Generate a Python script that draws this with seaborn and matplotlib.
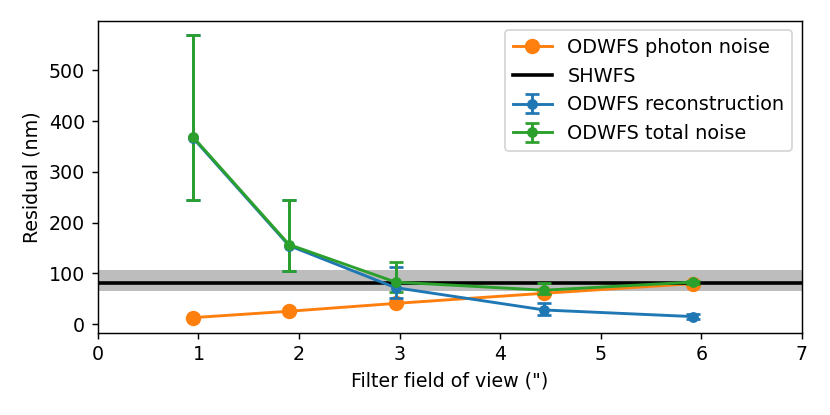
import matplotlib
matplotlib.use("Agg")
import matplotlib.pyplot as plt
import numpy as np
import pandas as pd
import seaborn as sns

# filter field of view (arcsec)
fov = [0.95, 1.9, 2.96, 4.44, 5.92]

photon_noise = [13, 25.5, 41, 61, 80]

recon = [366, 155, 72, 28, 15]
recon_lo = [245, 104, 52, 18, 10]
recon_hi = [570, 244, 113, 41, 20]

total = [368, 157, 83, 67, 83]
total_lo = [245, 105, 63, 60, 80]
total_hi = [570, 245, 122, 82, 86]

shwfs = 80.5
shwfs_lo = 65.5
shwfs_hi = 107

plt.rcParams["font.size"] = 10.5

fig, ax = plt.subplots(figsize=(830 / 130, 415 / 130), dpi=130)

df = pd.DataFrame({"fov": fov, "photon": photon_noise})
sns.lineplot(data=df, x="fov", y="photon", ax=ax, color="tab:orange", marker="o",
             markersize=8.5, markeredgewidth=0, lw=1.6, label="ODWFS photon noise")

ax.axhline(shwfs, color="black", lw=2, label="SHWFS")
ax.fill_between([0, 7], shwfs_lo, shwfs_hi, color="#bdbdbd", zorder=0.5, lw=0)

rec = np.array(recon)
ax.errorbar(fov, rec, yerr=[rec - np.array(recon_lo), np.array(recon_hi) - rec],
            fmt="o-", color="tab:blue", ms=5, lw=1.6, capsize=4, capthick=1.5,
            label="ODWFS reconstruction")
tot = np.array(total)
ax.errorbar(fov, tot, yerr=[tot - np.array(total_lo), np.array(total_hi) - tot],
            fmt="o-", color="tab:green", ms=5, lw=1.6, capsize=4, capthick=1.5,
            label="ODWFS total noise")

ax.set_xlim(0, 7)
ax.set_ylim(-17, 598)
ax.set_xticks(range(0, 8))
ax.set_yticks([0, 100, 200, 300, 400, 500])
ax.set_xlabel('Filter field of view (")')
ax.set_ylabel("Residual (nm)")
ax.legend(loc="upper right", fontsize=10.7)

fig.subplots_adjust(left=0.118, right=0.966, top=0.95, bottom=0.198)
fig.savefig("out.png", dpi=130)
